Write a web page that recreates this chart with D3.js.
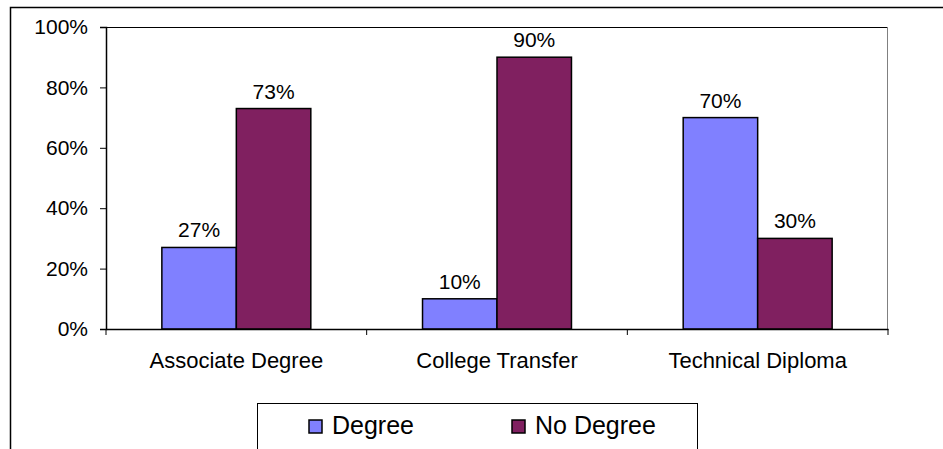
<!DOCTYPE html>
<html><head><meta charset="utf-8">
<script src="https://cdn.jsdelivr.net/npm/d3@7"></script>
<style>body{margin:0;background:#fff}svg{display:block;font-family:"Liberation Sans",Arial,sans-serif}</style>
</head><body><svg id="c" width="943" height="449"></svg>
<script>
const categories = ["Associate Degree", "College Transfer", "Technical Diploma"];
const seriesNames = ["Degree", "No Degree"];
const degree = [27, 10, 70];
const noDegree = [73, 90, 30];
const yTicks = [0, 20, 40, 60, 80, 100];
const colors = ["#8080FF", "#802060"];

const svg = d3.select("#c");
const m = {l:106, t:27, r:888, b:329};

// outer frame
svg.append("rect").attr("x",10.5).attr("y",7.5).attr("width",940).attr("height",460)
  .attr("fill","none").attr("stroke","#000").attr("stroke-width",1.5);

const x = d3.scaleBand().domain(categories).range([m.l, m.r]);
const xs = d3.scaleBand().domain(seriesNames).range([0, x.bandwidth()]).paddingInner(0).paddingOuter(0.75);
const y = d3.scaleLinear().domain([0,100]).range([m.b, m.t]);

// plot border top & right
svg.append("line").attr("x1",m.l).attr("x2",m.r).attr("y1",m.t+0.5).attr("y2",m.t+0.5).attr("stroke","#000");
svg.append("line").attr("x1",m.r-0.5).attr("x2",m.r-0.5).attr("y1",m.t).attr("y2",m.b).attr("stroke","#808080");

const data = categories.map((c,i)=>({c, vals:[degree[i], noDegree[i]]}));
const g = svg.append("g");
data.forEach(d=>{
  d.vals.forEach((v,j)=>{
    const bx = x(d.c)+xs(seriesNames[j]);
    g.append("rect").attr("x",bx).attr("y",y(v)).attr("width",xs.bandwidth()).attr("height",y(0)-y(v))
      .attr("fill",colors[j]).attr("stroke","#000").attr("stroke-width",1.5);
    g.append("text").attr("x",bx+xs.bandwidth()/2).attr("y",y(v)-10).attr("text-anchor","middle")
      .attr("font-size",21).attr("fill","#000").text(v+"%");
  });
});

// y axis
const ya = svg.append("g").attr("transform",`translate(${m.l},0)`)
  .call(d3.axisLeft(y).tickValues(yTicks).tickFormat(d=>d+"%").tickSize(6).tickPadding(12));
ya.select(".domain").attr("stroke","#000").attr("stroke-width",1.5);
ya.selectAll("text").attr("font-size",21).attr("font-family","Liberation Sans, Arial, sans-serif").attr("fill","#000");
ya.selectAll("line").attr("stroke","#000");

// x axis
const xa = svg.append("g").attr("transform",`translate(0,${m.b})`)
  .call(d3.axisBottom(x).tickSize(0).tickPadding(0));
xa.select(".domain").attr("stroke","#000").attr("stroke-width",1.5);
xa.selectAll("text").attr("font-size",22).attr("font-family","Liberation Sans, Arial, sans-serif")
  .attr("fill","#000").attr("dy",null).attr("y",39);
const seps = categories.map(c=>x(c)).concat([x(categories[categories.length-1])+x.bandwidth()]);
xa.selectAll(".sep").data(seps).enter().append("line").attr("class","sep")
  .attr("x1",d=>d).attr("x2",d=>d).attr("y1",0).attr("y2",6).attr("stroke","#000");

// legend
const lg = svg.append("g");
lg.append("rect").attr("x",257.5).attr("y",403.5).attr("width",440).attr("height",60)
  .attr("fill","#fff").attr("stroke","#000");
const lx = [309, 512];
seriesNames.forEach((s,i)=>{
  lg.append("rect").attr("x",lx[i]).attr("y",420).attr("width",13).attr("height",13)
    .attr("fill",colors[i]).attr("stroke","#000").attr("stroke-width",1.5);
  lg.append("text").attr("x",lx[i]+23).attr("y",434).attr("font-size",25).attr("fill","#000").text(s);
});
</script></body></html>
